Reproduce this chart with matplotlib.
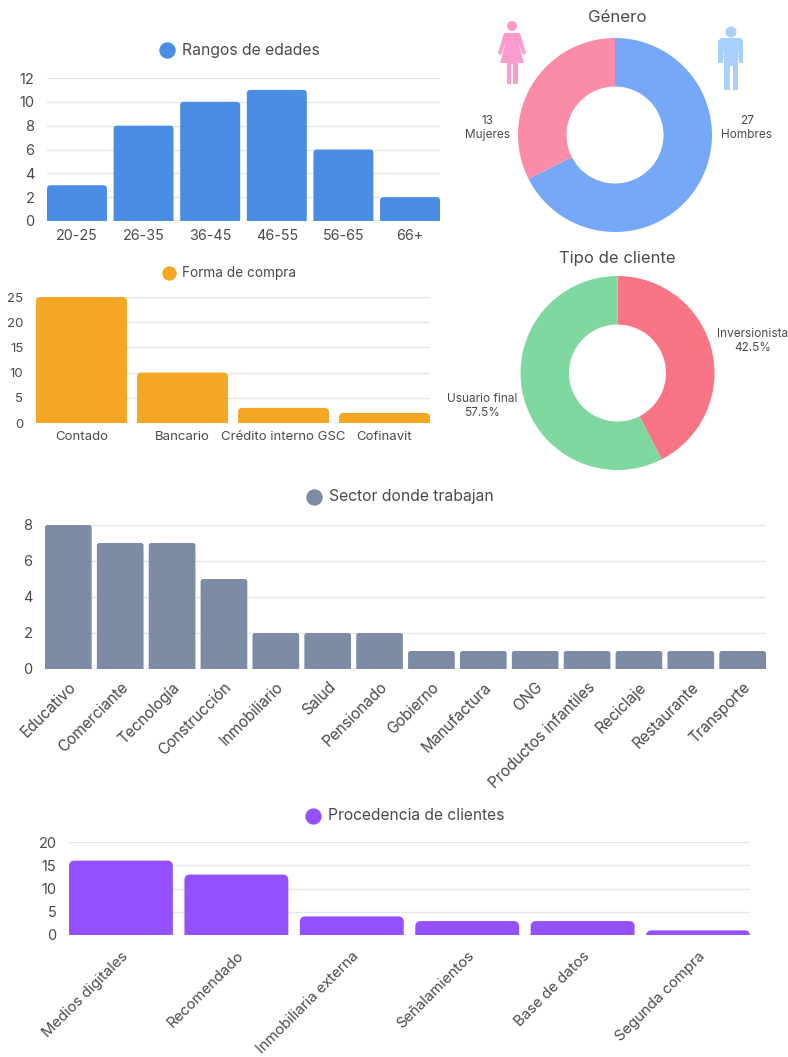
import matplotlib
matplotlib.use('Agg')
import matplotlib.pyplot as plt
from matplotlib.patches import Circle, FancyBboxPatch, Polygon

W, H = 788, 1057
TEXT = '#4a4a4a'
GRID = '#e4e6ea'

edades_cat = ['20-25', '26-35', '36-45', '46-55', '56-65', '66+']
edades_val = [3, 8, 10, 11, 6, 2]

compra_cat = ['Contado', 'Bancario', 'Crédito interno GSC', 'Cofinavit']
compra_val = [25, 10, 3, 2]

sector_cat = ['Educativo', 'Comerciante', 'Tecnología', 'Construcción', 'Inmobiliario',
              'Salud', 'Pensionado', 'Gobierno', 'Manufactura', 'ONG',
              'Productos infantiles', 'Reciclaje', 'Restaurante', 'Transporte']
sector_val = [8, 7, 7, 5, 2, 2, 2, 1, 1, 1, 1, 1, 1, 1]

origen_cat = ['Medios digitales', 'Recomendado', 'Inmobiliaria externa',
              'Señalamientos', 'Base de datos', 'Segunda compra']
origen_val = [16, 13, 4, 3, 3, 1]

genero_lab = ['Hombres', 'Mujeres']
genero_val = [27, 13]

cliente_lab = ['Inversionista', 'Usuario final']
cliente_val = [42.5, 57.5]

plt.rcParams['font.family'] = ['Inter', 'DejaVu Sans']

fig = plt.figure(figsize=(W / 100, H / 100), dpi=100)


def px_axes(x0, y0, x1, y1):
    # caja en pixeles, con origen arriba a la izquierda
    return fig.add_axes([x0 / W, 1 - y1 / H, (x1 - x0) / W, (y1 - y0) / H])


def bar_chart(box, cats, vals, ymax, step, color, title, title_xy, radius,
              rot=0, xfs=10, yfs=10, tfs=10, xpad=6):
    ax = px_axes(*box)
    n = len(cats)
    ax.set_xlim(-0.45, n - 0.55)
    ax.set_ylim(0, ymax)
    pw = (box[2] - box[0]) / (n - 0.1)
    ph = (box[3] - box[1]) / ymax
    d = 2 * radius / ph
    for i, v in enumerate(vals):
        # esquinas redondeadas arriba; la parte de abajo queda recortada por el eje
        ax.add_patch(FancyBboxPatch((i - 0.45, -d), 0.9, v + d,
                                    boxstyle=f'round,pad=0,rounding_size={radius / pw}',
                                    mutation_aspect=pw / ph, fc=color, ec='none', zorder=3))
    ax.set_yticks(range(0, ymax + 1, step))
    ax.set_xticks(range(n))
    if rot:
        ax.set_xticklabels(cats, rotation=rot, ha='right', rotation_mode='anchor')
    else:
        ax.set_xticklabels(cats)
    ax.tick_params(axis='x', length=0, labelsize=xfs, labelcolor=TEXT, pad=xpad)
    ax.tick_params(axis='y', length=0, labelsize=yfs, labelcolor=TEXT, pad=9)
    ax.grid(axis='y', color=GRID, lw=1)
    ax.set_axisbelow(True)
    for s in ax.spines.values():
        s.set_visible(False)
    ov.plot(title_xy[0], title_xy[1], 'o', ms=tfs + 0.5, color=color, mew=0)
    ov.text(title_xy[0] + tfs * 1.35, title_xy[1], title, fontsize=tfs, color=TEXT, va='center', ha='left')
    return ax


def donut(cx, cy, r, vals, colors):
    ax = px_axes(cx - r, cy - r, cx + r, cy + r)
    ax.pie(vals, colors=colors, startangle=90, counterclock=False, radius=1,
           wedgeprops=dict(width=0.5, linewidth=0))
    ax.set_xlim(-1, 1)
    ax.set_ylim(-1, 1)
    return ax


# capa en pixeles para titulos, etiquetas e iconos
ov = fig.add_axes([0, 0, 1, 1], zorder=5)
ov.set_xlim(0, W)
ov.set_ylim(H, 0)
ov.axis('off')
ov.patch.set_alpha(0)

bar_chart((47, 78, 440, 221), edades_cat, edades_val, 12, 2, '#4a8de3', 'Rangos de edades',
          (167, 50), 3.5, xfs=10.3, yfs=10.5, tfs=11.3)
bar_chart((36, 297, 430, 423), compra_cat, compra_val, 25, 5, '#f5a623', 'Forma de compra',
          (169, 273), 4.5, xfs=9.5, yfs=9.5, tfs=9.8)
bar_chart((45, 525, 766, 669), sector_cat, sector_val, 8, 2, '#7e8ba5', 'Sector donde trabajan',
          (314, 497), 2.5, rot=45, xfs=11, yfs=10.5, tfs=11.3, xpad=7.5)
bar_chart((69, 842, 750, 935), origen_cat, origen_val, 20, 5, '#9550ff', 'Procedencia de clientes',
          (313, 816), 5.5, rot=45, xfs=10.7, yfs=10.5, tfs=11.2, xpad=10)

donut(615, 135, 97, genero_val, ['#77a8f7', '#fa8caa'])
donut(617.5, 373, 97, cliente_val, ['#f97585', '#7fd8a0'])

ov.text(617.5, 17, 'Género', fontsize=12.2, color=TEXT, ha='center', va='center')
ov.text(617.5, 258, 'Tipo de cliente', fontsize=12, color=TEXT, ha='center', va='center')

ov.text(488, 128, f'{genero_val[1]}\n{genero_lab[1]}', fontsize=8.5, color=TEXT, ha='center', va='center', linespacing=1.3)
ov.text(747, 128, f'{genero_val[0]}\n{genero_lab[0]}', fontsize=8.5, color=TEXT, ha='center', va='center', linespacing=1.3)
ov.text(753, 341, f'{cliente_lab[0]}\n{cliente_val[0]}%', fontsize=8.5, color=TEXT, ha='center', va='center', linespacing=1.15)
ov.text(482, 406, f'{cliente_lab[1]}\n{cliente_val[1]}%', fontsize=8.5, color=TEXT, ha='center', va='center', linespacing=1.15)

# icono mujer
pink = '#fb9bce'
ov.add_patch(Circle((512, 26), 5, fc=pink, ec='none'))
ov.add_patch(Polygon([(504, 33), (520, 33), (526, 53), (523, 55), (518, 42), (524, 63),
                     (518, 63), (518, 84), (513, 84), (513, 64), (511, 64), (511, 84),
                     (507, 84), (507, 63), (500, 63), (506, 42), (501, 55), (498, 53)],
                    closed=True, fc=pink, ec='none'))

# icono hombre
blue = '#a9d0fb'
ov.add_patch(Circle((731, 32), 5.5, fc=blue, ec='none'))
ov.add_patch(Polygon([(721, 38), (741, 38), (743, 41), (743, 63), (739, 63), (738, 48),
                     (738, 90), (733, 90), (733, 66), (730, 66), (730, 90), (724, 90),
                     (724, 48), (723, 63), (718, 63), (718, 41)],
                    closed=True, fc=blue, ec='none'))

fig.savefig('out.png', dpi=100)
